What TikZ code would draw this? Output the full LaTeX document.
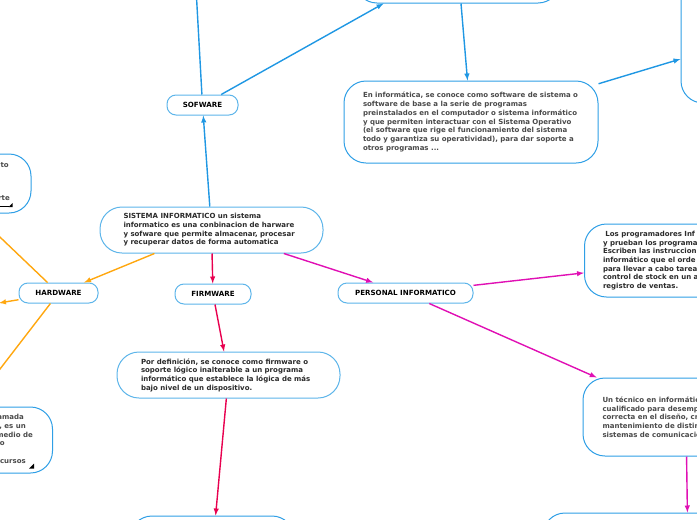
\documentclass[tikz,border=0pt]{standalone}
\usepackage{fontspec}
\setmainfont{DejaVu Sans}
\definecolor{nodeblue}{HTML}{5DB5EA}
\definecolor{softblue}{HTML}{2F9FE6}
\definecolor{edgeblue}{HTML}{1F97E3}
\definecolor{hardorange}{HTML}{FFA70F}
\definecolor{firmred}{HTML}{E8004F}
\definecolor{persmagenta}{HTML}{E010B4}
\definecolor{boxtext}{HTML}{2B2B2B}
\definecolor{softtext}{HTML}{4A4A4A}
\begin{document}
\begin{tikzpicture}[x=1pt, y=-1pt,
mainbox/.style = {draw=nodeblue, line width=1pt, fill=white, rectangle, rounded corners=22pt, inner sep=0pt, align=left, text=boxtext, font=\fontsize{7}{8.7}\selectfont\bfseries},
softbox/.style = {mainbox, draw=softblue, text=softtext},
titlebox/.style = {draw=nodeblue, line width=1pt, fill=white, rectangle, rounded corners=9pt, inner sep=0pt, font=\fontsize{7.1}{8.7}\selectfont\bfseries},
softarrow/.style = {draw=edgeblue, line width=1.4pt, -latex},
hardarrow/.style = {draw=hardorange, line width=1.4pt, -latex},
firmarrow/.style = {draw=firmred, line width=1.4pt, -latex},
persarrow/.style = {draw=persmagenta, line width=1.4pt, -latex},
clipline/.style = {anchor=base east, inner sep=0pt, text=softtext, font=\fontsize{7}{8.7}\selectfont\bfseries}]
\useasboundingbox (0,0) rectangle (697,520);
\node[mainbox, minimum width=223pt, minimum height=46pt] (sistema) at (211.5,230) {\makebox[176pt][l]{SISTEMA INFORMATICO un sistema}\\ informatico es una conbinacion de harware\\ y sofware que permite almacenar, procesar\\ y recuperar datos de forma automatica};
\node[titlebox, minimum width=71pt, minimum height=20pt] (sofware) at (202.5,105) {SOFWARE};
\node[titlebox, minimum width=79pt, minimum height=20pt] (hardware) at (58.5,293) {HARDWARE};
\node[titlebox, minimum width=76pt, minimum height=20pt] (firmware) at (213,294) {FIRMWARE};
\node[titlebox, minimum width=135pt, minimum height=20pt] (personal) at (405.5,293) {PERSONAL INFORMATICO};
\node[softbox, minimum width=205pt, minimum height=82pt] (softtop) at (457.5,-38) {};
\node[softbox, minimum width=254pt, minimum height=82pt] (softbase) at (471,122) {\makebox[216pt][l]{En informática, se conoce como software de sistema o}\\ software de base a la serie de programas\\ preinstalados en el computador o sistema informático\\ y que permiten interactuar con el Sistema Operativo\\ (el software que rige el funcionamiento del sistema\\ todo y garantiza su operatividad), para dar soporte a\\ otros programas ...};
\node[softbox, minimum width=260pt, minimum height=166pt] (softright) at (811,20) {};
\node[mainbox, minimum width=223pt, minimum height=46pt] (firmdef) at (228.5,375) {\makebox[175pt][l]{Por definición, se conoce como firmware o}\\ soporte lógico inalterable a un programa\\ informático que establece la lógica de más\\ bajo nivel de un dispositivo.};
\node[softbox, minimum width=164pt, minimum height=78pt] (firmlow) at (212,555) {};
\node[softbox, text=boxtext, minimum width=220pt, minimum height=73pt] (program) at (694.5,260.5) {\makebox[183pt][l]{\ Los programadores Inf}\\ y prueban los programa\\ Escriben las instruccion\\ informático que el orde\\ para llevar a cabo tarea\\ control de stock en un a\\ registro de ventas.};
\node[softbox, minimum width=206pt, minimum height=78pt] (tecnico) at (686,417) {\makebox[167pt][l]{Un técnico en informátic}\\ cualificado para desemp\\ correcta en el diseño, cr\\ mantenimiento de distin\\ sistemas de comunicació};
\node[softbox, minimum width=290pt, minimum height=84pt] (teclow) at (688,555) {};
\node[softbox, minimum width=120pt, minimum height=59pt] (hardup) at (-29,183.5) {};
\node[softbox, minimum width=130pt, minimum height=66pt] (harddown) at (-12.5,440) {};
\node[clipline] (hardupa) at (9,167.5) {to};
\node[clipline] (hardupb) at (10,200.5) {rte};
\node[clipline] (harddowna) at (24,419.5) {amada};
\node[clipline] (harddownb) at (26,428.5) {, es un};
\node[clipline] (harddownc) at (33,437) {medio de};
\node[clipline] (harddownd) at (5,445.5) {ro};
\node[clipline] (harddowne) at (26,463) {cursos};
% small corner marks of the two left boxes
\fill[black] (12.5,203) -- (12.5,207) -- (8.5,207) -- cycle;
\draw[black, line width=0.5pt] (0,206.5) -- (8.5,206.5);
\fill[black] (34,463.5) -- (34,468.5) -- (29,468.5) -- cycle;
\coordinate (softoff) at (195,-30);
\coordinate (hardtop) at (-20,218);
\coordinate (hardmid) at (-1,303);
\coordinate (hardlow) at (-30,408);
\draw[softarrow] (sistema) -- (sofware);
\draw[softarrow, -] (sofware) -- (softoff);
\draw[softarrow] (sofware) -- (softtop);
\draw[softarrow] (softtop) -- (softbase);
\draw[softarrow] (softbase) -- (softright);
\draw[hardarrow] (sistema) -- (hardware);
\draw[hardarrow, -] (hardware) -- (hardtop);
\draw[hardarrow] (hardware) -- (hardmid);
\draw[hardarrow, -] (hardware) -- (hardlow);
\draw[firmarrow] (sistema) -- (firmware);
\draw[firmarrow] (firmware) -- (firmdef);
\draw[firmarrow] (firmdef) -- (firmlow);
\draw[persarrow] (sistema) -- (personal);
\draw[persarrow] (personal) -- (program);
\draw[persarrow] (personal) -- (tecnico);
\draw[persarrow] (tecnico) -- (teclow);
\end{tikzpicture}
\end{document}
